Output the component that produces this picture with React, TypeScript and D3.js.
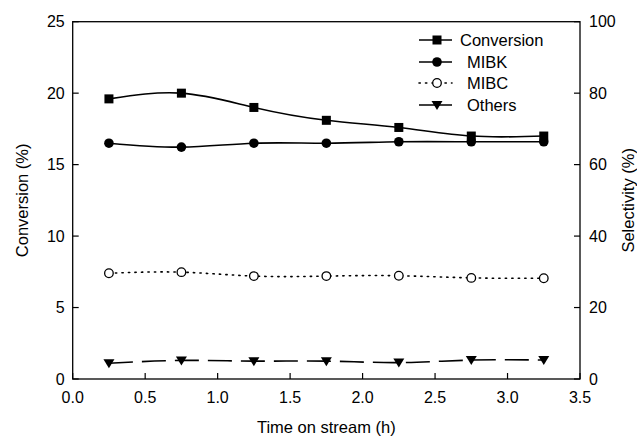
import React from "react";
import * as d3 from "d3";

const times = [0.25, 0.75, 1.25, 1.75, 2.25, 2.75, 3.25];
const conversion = [19.6, 20.0, 19.0, 18.1, 17.6, 17.0, 17.0];
const mibk = [66.0, 64.9, 66.0, 66.0, 66.4, 66.4, 66.4];
const mibc = [29.6, 29.9, 28.8, 28.8, 28.9, 28.3, 28.2];
const others = [4.4, 5.2, 5.0, 5.0, 4.6, 5.3, 5.3];

const xTicks = [0, 0.5, 1, 1.5, 2, 2.5, 3, 3.5];
const yLeftTicks = [0, 5, 10, 15, 20, 25];
const yRightTicks = [0, 20, 40, 60, 80, 100];
const legendLabels = ["Conversion", "MIBK", "MIBC", "Others"];

const W = 637, H = 436;
const L = 72.7, R = 580, T = 21.7, B = 379;
const FONT = "Liberation Sans, Arial, sans-serif";

function Marker({ type, x, y }: { type: string; x: number; y: number }) {
  if (type === "square") return <rect x={x - 4.5} y={y - 4.5} width={9} height={9} fill="#000" />;
  if (type === "circle") return <circle cx={x} cy={y} r={4.8} fill="#000" />;
  if (type === "open") return <circle cx={x} cy={y} r={4.3} fill="#fff" stroke="#000" strokeWidth={1.3} />;
  return <path d={`M${x - 5.5},${y - 4} L${x + 5.5},${y - 4} L${x},${y + 5} Z`} fill="#000" />;
}

export default function App() {
  const x = d3.scaleLinear().domain([0, 3.5]).range([L, R]);
  const yL = d3.scaleLinear().domain([0, 25]).range([B, T]);
  const yR = d3.scaleLinear().domain([0, 100]).range([B, T]);

  const series = [
    { vals: conversion, y: yL, marker: "square", dash: "none", label: legendLabels[0] },
    { vals: mibk, y: yR, marker: "circle", dash: "none", label: legendLabels[1] },
    { vals: mibc, y: yR, marker: "open", dash: "1.3 5.2", label: legendLabels[2] },
    { vals: others, y: yR, marker: "tri", dash: "24 9", label: legendLabels[3] },
  ];

  const legendX0 = 419, legendX1 = 452, legendMx = 437;
  const legendYs = [40, 62, 83, 105];
  const legendTextX = [460, 467, 467, 467];

  return (
    <svg width={W} height={H} style={{ position: "absolute", left: 0, top: 0, background: "#fff" }} fontFamily={FONT}>
      <rect x={0} y={0} width={W} height={H} fill="#fff" />
      {series.map((s, i) => {
        const line = d3
          .line<number>()
          .x((_, j) => x(times[j]))
          .y((v) => s.y(v))
          .curve(d3.curveNatural);
        return (
          <g key={i}>
            <path d={line(s.vals) || ""} fill="none" stroke="#000" strokeWidth={1.6} strokeDasharray={s.dash} strokeLinecap={s.marker === "open" ? "round" : "butt"} />
            {s.vals.map((v, j) => (
              <Marker key={j} type={s.marker} x={x(times[j])} y={s.y(v)} />
            ))}
          </g>
        );
      })}
      {/* frame */}
      <rect x={L} y={T} width={R - L} height={B - T} fill="none" stroke="#000" strokeWidth={1.3} />
      {xTicks.map((t) => (
        <g key={"x" + t}>
          <line x1={x(t)} x2={x(t)} y1={B} y2={B - 6} stroke="#000" strokeWidth={1.2} />
          <text x={x(t)} y={B + 24} textAnchor="middle" fontSize={16}>{t.toFixed(1)}</text>
        </g>
      ))}
      {yLeftTicks.map((t) => (
        <g key={"l" + t}>
          <line x1={L} x2={L + 6} y1={yL(t)} y2={yL(t)} stroke="#000" strokeWidth={1.2} />
          <text x={L - 8} y={yL(t)} dy="0.36em" textAnchor="end" fontSize={16}>{t}</text>
        </g>
      ))}
      {yRightTicks.map((t) => (
        <g key={"r" + t}>
          <line x1={R} x2={R - 6} y1={yR(t)} y2={yR(t)} stroke="#000" strokeWidth={1.2} />
          <text x={R + 9} y={yR(t)} dy="0.36em" textAnchor="start" fontSize={16}>{t}</text>
        </g>
      ))}
      <text x={(L + R) / 2} y={433} textAnchor="middle" fontSize={16.5}>Time on stream (h)</text>
      <text transform={`translate(28,${(T + B) / 2}) rotate(-90)`} textAnchor="middle" fontSize={16.5}>Conversion (%)</text>
      <text transform={`translate(634,${(T + B) / 2}) rotate(-90)`} textAnchor="middle" fontSize={16.5}>Selectivity (%)</text>
      {series.map((s, i) => (
        <g key={"lg" + i}>
          <line x1={legendX0} x2={legendX1} y1={legendYs[i]} y2={legendYs[i]} stroke="#000" strokeWidth={1.6} strokeDasharray={s.marker === "open" ? "1.3 5.2" : "none"} strokeLinecap={s.marker === "open" ? "round" : "butt"} />
          <Marker type={s.marker} x={legendMx} y={legendYs[i]} />
          <text x={legendTextX[i]} y={legendYs[i]} dy="0.36em" fontSize={16.5}>{s.label}</text>
        </g>
      ))}
    </svg>
  );
}
